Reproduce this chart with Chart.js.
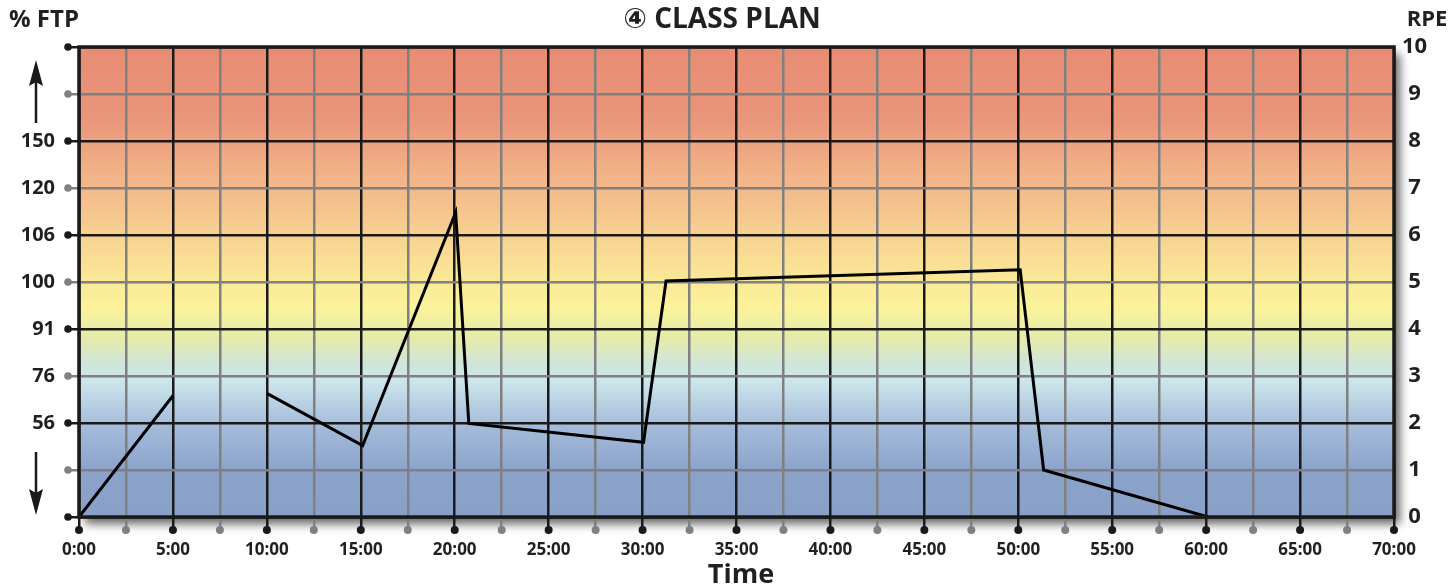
<!DOCTYPE html>
<html lang="en">
<head>
    <meta charset="UTF-8" />
    <title>Class Plan</title>
    <script src="https://cdn.jsdelivr.net/npm/chart.js"></script>
    <style>
        html, body { margin: 0; padding: 0; background: #fff; }
        canvas { display: block; }
    </style>
</head>
<body>
    <canvas id="chart" width="1456" height="588"></canvas>

    <script>
        // Datos del plan (tiempo en minutos, esfuerzo en RPE)
        const timeMin = [0, 5, 7.5, 10, 15.1, 20.05, 20.75, 30.05, 31.25, 50.1, 51.35, 60.1];
        const rpe = [0, 2.58, null, 2.63, 1.52, 6.48, 1.99, 1.59, 5.02, 5.26, 1.0, 0];

        // Etiquetas de los ejes
        const ftpLabels = { 8: '150', 7: '120', 6: '106', 5: '100', 4: '91', 3: '76', 2: '56' };
        const rpeTicks = [0, 1, 2, 3, 4, 5, 6, 7, 8, 9, 10];

        const BLACK = '#1a1a1a';
        const GRAY = '#808080';
        const TEXT = '#231f20';
        const FONT = '"Open Sans", "DejaVu Sans", sans-serif';

        const points = timeMin.map((t, i) => ({ x: t, y: rpe[i] }));

        // Fondo degradado + sombra + decoraciones
        const decor = {
            id: 'decor',
            beforeDraw(chart) {
                const { ctx, chartArea: a } = chart;
                ctx.save();
                ctx.shadowColor = 'rgba(0,0,0,0.6)';
                ctx.shadowBlur = 9;
                ctx.shadowOffsetX = 6;
                ctx.shadowOffsetY = 7;
                ctx.fillStyle = '#888';
                ctx.fillRect(a.left, a.top, a.width, a.height);
                ctx.restore();

                const g = ctx.createLinearGradient(0, a.top, 0, a.bottom);
                g.addColorStop(0, '#e88c74');
                g.addColorStop(0.15, '#e9957a');
                g.addColorStop(0.25, '#f0ae85');
                g.addColorStop(0.35, '#f5c58e');
                g.addColorStop(0.45, '#f9de94');
                g.addColorStop(0.55, '#fbf39a');
                g.addColorStop(0.62, '#e6eba8');
                g.addColorStop(0.67, '#d0e5d8');
                g.addColorStop(0.71, '#cde6ec');
                g.addColorStop(0.8, '#a6beda');
                g.addColorStop(0.9, '#8ba3cb');
                g.addColorStop(1, '#89a1c8');
                ctx.fillStyle = g;
                ctx.fillRect(a.left, a.top, a.width, a.height);
            },
            afterDraw(chart) {
                const { ctx, chartArea: a, scales } = chart;
                ctx.save();
                // marco
                ctx.strokeStyle = BLACK;
                ctx.lineWidth = 3.5;
                ctx.strokeRect(a.left, a.top, a.width, a.height);

                // puntos de las marcas
                scales.x.ticks.forEach(t => {
                    ctx.fillStyle = t.value % 5 === 0 ? BLACK : GRAY;
                    ctx.beginPath();
                    ctx.arc(scales.x.getPixelForValue(t.value), a.bottom + 13, 4, 0, Math.PI * 2);
                    ctx.fill();
                });
                scales.y.ticks.forEach(t => {
                    ctx.fillStyle = t.value % 2 === 0 ? BLACK : GRAY;
                    ctx.beginPath();
                    ctx.arc(a.left - 11, scales.y.getPixelForValue(t.value), 3.8, 0, Math.PI * 2);
                    ctx.fill();
                });

                // textos
                ctx.fillStyle = TEXT;
                ctx.textBaseline = 'middle';
                ctx.textAlign = 'left';
                ctx.font = 'bold 24px ' + FONT;
                ctx.fillText('% FTP', 9, 20);
                ctx.font = 'bold 22px ' + FONT;
                ctx.textAlign = 'center';
                ctx.fillText('RPE', 1427, 20);
                ctx.font = 'bold 28px ' + FONT;
                ctx.fillText('\u2463 CLASS PLAN', 722, 20);
                ctx.font = 'bold 27px ' + FONT;
                ctx.fillText('Time', 741, 575);

                // flechas
                ctx.strokeStyle = BLACK;
                ctx.fillStyle = BLACK;
                ctx.lineWidth = 2.5;
                ctx.beginPath();
                ctx.moveTo(36, 123); ctx.lineTo(36, 80);
                ctx.moveTo(36, 452); ctx.lineTo(36, 495);
                ctx.stroke();
                ctx.beginPath();
                ctx.moveTo(36, 60); ctx.lineTo(43, 86); ctx.lineTo(36, 82); ctx.lineTo(29, 86); ctx.closePath();
                ctx.moveTo(36, 515); ctx.lineTo(43, 489); ctx.lineTo(36, 493); ctx.lineTo(29, 489); ctx.closePath();
                ctx.fill();
                ctx.restore();
            }
        };

        const ctx = document.getElementById('chart').getContext('2d');
        const chart = new Chart(ctx, {
            type: 'line',
            data: {
                datasets: [{
                    data: points,
                    borderColor: '#000',
                    borderWidth: 3,
                    pointRadius: 0,
                    tension: 0,
                    spanGaps: false,
                    yAxisID: 'y'
                }]
            },
            options: {
                responsive: false,
                animation: false,
                layout: { padding: { top: 47, left: 0, right: 0, bottom: 0 } },
                plugins: {
                    legend: { display: false },
                    title: { display: false },
                    tooltip: { enabled: false }
                },
                scales: {
                    x: {
                        type: 'linear',
                        min: 0,
                        max: 70,
                        afterFit: s => { s.height = 71; },
                        afterBuildTicks: s => {
                            s.ticks = [];
                            for (let v = 0; v <= 70; v += 2.5) s.ticks.push({ value: v });
                        },
                        border: { display: false },
                        grid: {
                            color: c => (c.tick && c.tick.value % 5 === 0) ? BLACK : GRAY,
                            lineWidth: 2.5,
                            tickLength: 13
                        },
                        ticks: {
                            autoSkip: false,
                            maxRotation: 0,
                            padding: 10,
                            color: TEXT,
                            font: { family: FONT, size: 17, weight: 'bold' },
                            callback: v => v % 5 === 0 ? v + ':00' : ''
                        }
                    },
                    y: {
                        position: 'left',
                        min: 0,
                        max: 10,
                        afterFit: s => { s.width = 79; },
                        border: { display: false },
                        grid: {
                            color: c => (c.tick && c.tick.value % 2 === 0) ? BLACK : GRAY,
                            lineWidth: 2.5,
                            tickLength: 11
                        },
                        ticks: {
                            stepSize: 1,
                            padding: 13,
                            color: TEXT,
                            font: { family: FONT, size: 20, weight: 'bold' },
                            callback: v => ftpLabels[v] || ''
                        }
                    },
                    y2: {
                        position: 'right',
                        min: 0,
                        max: 10,
                        afterFit: s => { s.width = 62; },
                        afterBuildTicks: s => { s.ticks = rpeTicks.map(v => ({ value: v })); },
                        border: { display: false },
                        grid: { display: false },
                        ticks: {
                            crossAlign: 'center',
                            padding: 0,
                            color: TEXT,
                            font: { family: FONT, size: 22, weight: 'bold' }
                        }
                    }
                }
            },
            plugins: [decor]
        });
    </script>
</body>
</html>
